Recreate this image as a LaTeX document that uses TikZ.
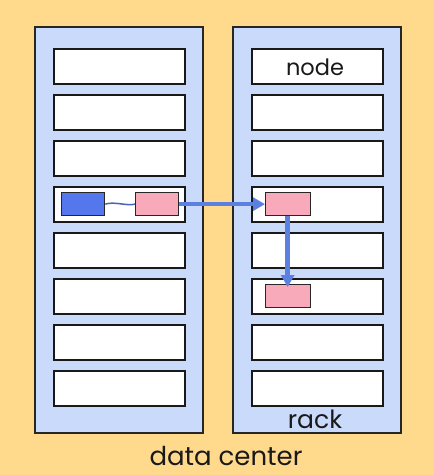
\documentclass[tikz,border=0pt]{standalone}
\usepackage{fontspec}
\setmainfont{Poppins}
\usetikzlibrary{arrows.meta}
\definecolor{bgorange}{HTML}{FFD98C}
\definecolor{rackblue}{HTML}{C9DAFA}
\definecolor{procblue}{HTML}{5577EE}
\definecolor{procpink}{HTML}{F8A9BA}
\definecolor{arrowblue}{HTML}{5B80E2}
\definecolor{linkblue}{HTML}{4A64B0}
\tikzset{
  rackbox/.style={draw=black!85, line width=1.8pt, fill=rackblue, inner sep=0pt, anchor=north west, minimum width=168pt, minimum height=406pt},
  nodebox/.style={draw=black!90, line width=1.7pt, fill=white, inner sep=0pt, anchor=north west, minimum width=131pt, minimum height=35pt},
  procbox/.style={draw=black!85, line width=1.3pt, inner sep=0pt, anchor=north west, minimum width=43pt, minimum height=23pt},
  bigarrow/.style={draw=arrowblue, line width=4.4pt, -{Triangle[length=12pt,width=13pt]}},
  lbl/.style={inner sep=0pt, text=black!90, anchor=base}
}
\begin{document}
\begin{tikzpicture}[x=1pt,y=-1pt]
\path[fill=bgorange] (0,0) rectangle (434,475);
\useasboundingbox (0,0) rectangle (434,475);
\node[rackbox] (rackL) at (34,26) {};
\node[rackbox] (rackR) at (232,26) {};
\foreach \i in {1,...,8}{
  \node[nodebox] (L\i) at (53,{48+46*(\i-1)}) {};
  \node[nodebox] (R\i) at (251,{48+46*(\i-1)}) {};
}
\node[lbl, font=\fontsize{22.5}{22.5}\selectfont] (nodelbl) at (315,75) {node};
\node[lbl, font=\fontsize{25}{25}\selectfont] (racklbl) at (315,428) {rack};
\node[lbl, font=\fontsize{26}{26}\selectfont] (dclbl) at (226,465) {data center};
\node[procbox, fill=procblue] (pb) at (61,192) {};
\node[procbox, fill=procpink] (pl) at (135,192) {};
\node[procbox, fill=procpink, minimum width=45pt] (pr1) at (265,192) {};
\node[procbox, fill=procpink, minimum width=45pt] (pr2) at (265,284) {};
\draw[linkblue, line width=1.5pt] (pb.east) .. controls +(9,-3) and +(-9,2) .. (pl.west);
\draw[bigarrow] (pl.east) -- (pr1.west);
\draw[bigarrow] ([xshift=-0.5pt]pr1.south) -- ([xshift=-0.5pt,yshift=-3pt]pr2.north);
\end{tikzpicture}
\end{document}
